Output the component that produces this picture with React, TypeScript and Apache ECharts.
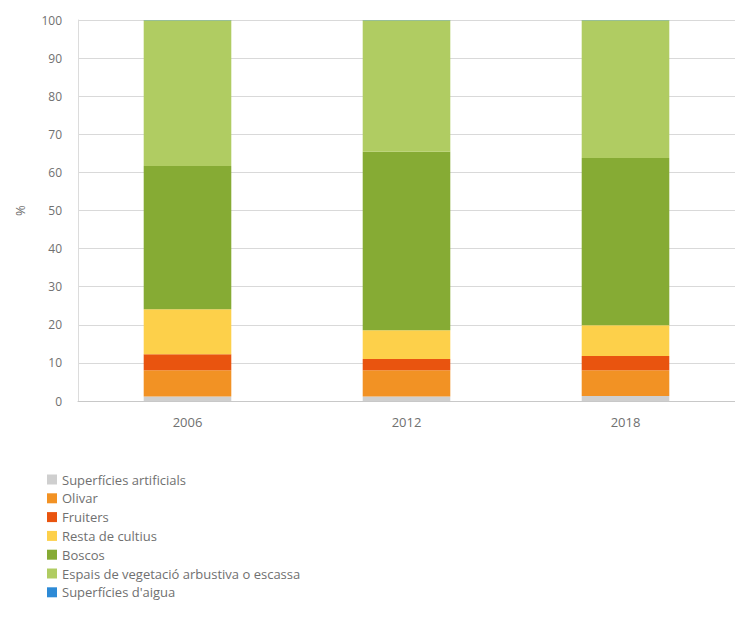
import React, { useEffect, useRef } from "react";
import * as echarts from "echarts";

const years = ["2006", "2012", "2018"];
const superficiesArtificials = [1.2, 1.2, 1.3];
const olivar = [6.9, 6.9, 6.8];
const fruiters = [4.2, 2.9, 3.7];
const restaCultius = [11.8, 7.6, 8.1];
const boscos = [37.6, 46.8, 43.9];
const espais = [38.25, 34.55, 36.15];
const aigua = [0.05, 0.05, 0.05];
const yTicks = [0, 10, 20, 30, 40, 50, 60, 70, 80, 90, 100];

const seriesDefs = [
  { name: "Superfícies artificials", data: superficiesArtificials, color: "#cfcfcf" },
  { name: "Olivar", data: olivar, color: "#f29224" },
  { name: "Fruiters", data: fruiters, color: "#e9540f" },
  { name: "Resta de cultius", data: restaCultius, color: "#fdd04a" },
  { name: "Boscos", data: boscos, color: "#86ab34" },
  { name: "Espais de vegetació arbustiva o escassa", data: espais, color: "#b0cc62" },
  { name: "Superfícies d'aigua", data: aigua, color: "#2d8ad6" },
];

export default function App() {
  const ref = useRef<HTMLDivElement>(null);
  useEffect(() => {
    document.body.style.margin = "0";
    if (!ref.current) return;
    const chart = echarts.init(ref.current, null, { renderer: "svg" });
    chart.setOption({
      animation: false,
      backgroundColor: "#ffffff",
      textStyle: { fontFamily: "Open Sans" },
      grid: { left: 78, top: 20, right: -4, bottom: 240 },
      legend: {
        orient: "vertical",
        left: 47,
        top: 473,
        itemWidth: 10,
        itemHeight: 10,
        itemGap: 5.8,
        icon: "rect",
        padding: 0,
        textStyle: { color: "#707070", fontSize: 13, lineHeight: 10, fontFamily: "Open Sans" },
        data: seriesDefs.map((s) => s.name),
      },
      xAxis: {
        type: "category",
        data: years,
        axisLine: { lineStyle: { color: "#c8c8c8" } },
        axisTick: { show: false },
        axisLabel: { color: "#707070", fontSize: 13, margin: 14 },
      },
      yAxis: {
        type: "value",
        min: yTicks[0],
        max: yTicks[yTicks.length - 1],
        interval: 10,
        name: "%",
        nameLocation: "middle",
        nameRotate: 90,
        nameGap: 52,
        nameTextStyle: { color: "#707070", fontSize: 13 },
        axisLine: { show: true, lineStyle: { color: "#dcdcdc" } },
        axisTick: { show: false },
        axisLabel: { color: "#707070", fontSize: 12, margin: 16 },
        splitLine: { lineStyle: { color: "#d9d9d9" } },
      },
      series: seriesDefs.map((s) => ({
        name: s.name,
        type: "bar",
        stack: "total",
        barWidth: "40%",
        data: s.data,
        itemStyle: { color: s.color },
      })),
    });
    return () => chart.dispose();
  }, []);
  return <div ref={ref} style={{ width: 735, height: 641 }} />;
}
